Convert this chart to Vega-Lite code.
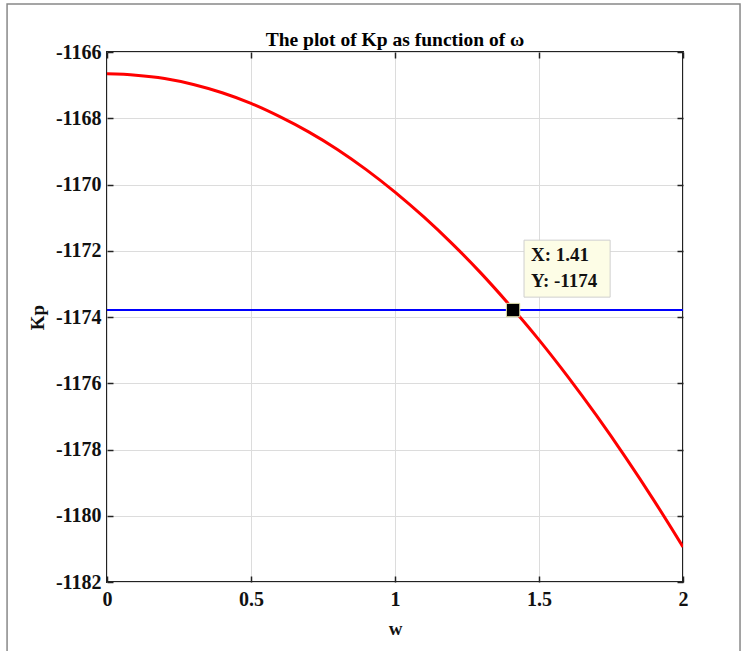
{
  "$schema": "https://vega.github.io/schema/vega-lite/v6.json",
  "width": 576,
  "height": 530,
  "autosize": "none",
  "padding": {"left": 107, "top": 52, "right": 62, "bottom": 69},
  "background": "white",
  "title": {"text": "The plot of Kp as function of ω", "font": "Liberation Serif", "fontSize": 19.5, "fontWeight": "bold", "color": "black", "offset": 4, "frame": "group", "anchor": "middle", "dy": 51},
  "config": {
    "view": {"stroke": "#222222", "strokeWidth": 2},
    "axis": {"labelFont": "Liberation Serif", "labelFontWeight": "bold", "labelFontSize": 20, "labelColor": "#111111", "titleFont": "Liberation Serif", "titleFontWeight": "bold", "titleFontSize": 19, "titleColor": "#111111", "domain": false, "tickColor": "#222222", "tickSize": -6, "tickWidth": 1.5, "gridColor": "#dcdcdc", "gridWidth": 1}
  },
  "datasets": {
    "curve": [
      {"w": 0.0, "Kp": -1166.66}, {"w": 0.1, "Kp": -1166.70}, {"w": 0.2, "Kp": -1166.80}, {"w": 0.3, "Kp": -1166.98},
      {"w": 0.4, "Kp": -1167.23}, {"w": 0.5, "Kp": -1167.55}, {"w": 0.6, "Kp": -1167.95}, {"w": 0.7, "Kp": -1168.41},
      {"w": 0.8, "Kp": -1168.94}, {"w": 0.9, "Kp": -1169.55}, {"w": 1.0, "Kp": -1170.23}, {"w": 1.1, "Kp": -1170.98},
      {"w": 1.2, "Kp": -1171.80}, {"w": 1.3, "Kp": -1172.69}, {"w": 1.4, "Kp": -1173.66}, {"w": 1.5, "Kp": -1174.69},
      {"w": 1.6, "Kp": -1175.80}, {"w": 1.7, "Kp": -1176.98}, {"w": 1.8, "Kp": -1178.23}, {"w": 1.9, "Kp": -1179.55},
      {"w": 2.0, "Kp": -1180.94}
    ],
    "hline": [{"w": 0, "Kp": -1173.79}, {"w": 2, "Kp": -1173.79}],
    "tip": [{"w": 1.41, "Kp": -1173.79}],
    "box": [{"x1": 1.448, "x2": 1.747, "y1": -1171.68, "y2": -1173.40}],
    "tiptext": [{"w": 1.472, "Kp": -1172.13, "t": "X: 1.41"}, {"w": 1.472, "Kp": -1172.91, "t": "Y: -1174"}],
    "frame": [{"x1": -0.347, "x2": 2.198, "y1": -1164.55, "y2": -1184.3}]
  },
  "resolve": {"axis": {"x": "independent", "y": "independent"}},
  "layer": [
    {
      "data": {"name": "curve"},
      "mark": {"type": "line", "color": "#ff0000", "strokeWidth": 3, "interpolate": "monotone", "clip": true},
      "encoding": {
        "x": {"field": "w", "type": "quantitative", "scale": {"domain": [0, 2], "nice": false}, "axis": {"title": "w", "values": [0, 0.5, 1, 1.5, 2], "labelExpr": "'' + datum.value", "labelPadding": 13, "titlePadding": 10, "grid": true, "labelFlush": false}},
        "y": {"field": "Kp", "type": "quantitative", "scale": {"domain": [-1182, -1166], "nice": false, "zero": false}, "axis": {"title": "Kp", "values": [-1182, -1180, -1178, -1176, -1174, -1172, -1170, -1168, -1166], "labelExpr": "'' + datum.value", "labelPadding": 12, "titlePadding": 8, "grid": true}}
      }
    },
    {
      "data": {"name": "hline"},
      "mark": {"type": "line", "color": "#0000ff", "strokeWidth": 2},
      "encoding": {
        "x": {"field": "w", "type": "quantitative", "axis": {"orient": "top", "values": [0, 0.5, 1, 1.5, 2], "labels": false, "title": null, "grid": false}},
        "y": {"field": "Kp", "type": "quantitative", "axis": {"orient": "right", "values": [-1182, -1180, -1178, -1176, -1174, -1172, -1170, -1168, -1166], "labels": false, "title": null, "grid": false}}
      }
    },
    {
      "data": {"name": "tip"},
      "mark": {"type": "square", "size": 180, "color": "#000000", "filled": true, "stroke": "#e8e8b0", "strokeWidth": 1, "opacity": 1},
      "encoding": {
        "x": {"field": "w", "type": "quantitative", "axis": null},
        "y": {"field": "Kp", "type": "quantitative", "axis": null}
      }
    },
    {
      "data": {"name": "box"},
      "mark": {"type": "rect", "fill": "#fdfde6", "stroke": "#cfcfcf", "strokeWidth": 1},
      "encoding": {
        "x": {"field": "x1", "type": "quantitative", "axis": null},
        "x2": {"field": "x2"},
        "y": {"field": "y1", "type": "quantitative", "axis": null},
        "y2": {"field": "y2"}
      }
    },
    {
      "data": {"name": "tiptext"},
      "mark": {"type": "text", "align": "left", "baseline": "middle", "font": "Liberation Serif", "fontWeight": "bold", "fontSize": 19, "color": "#111111"},
      "encoding": {
        "x": {"field": "w", "type": "quantitative", "axis": null},
        "y": {"field": "Kp", "type": "quantitative", "axis": null},
        "text": {"field": "t"}
      }
    },
    {
      "data": {"name": "frame"},
      "mark": {"type": "rect", "fill": null, "fillOpacity": 0, "stroke": "#888888", "strokeWidth": 1.5, "clip": false},
      "encoding": {
        "x": {"field": "x1", "type": "quantitative", "axis": null},
        "x2": {"field": "x2"},
        "y": {"field": "y1", "type": "quantitative", "axis": null},
        "y2": {"field": "y2"}
      }
    }
  ]
}
